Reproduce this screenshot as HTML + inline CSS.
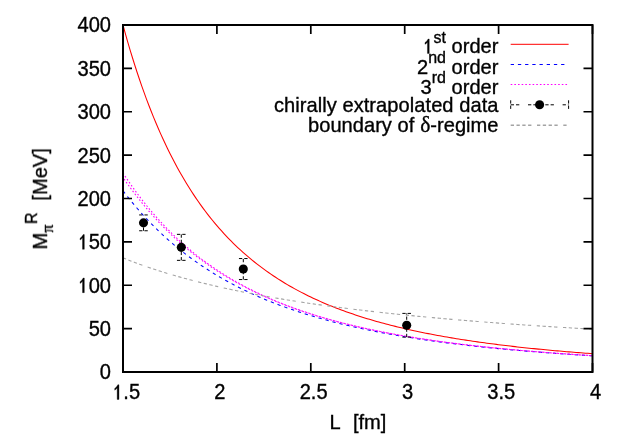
<!DOCTYPE html>
<html><head><meta charset="utf-8"><style>
html,body{margin:0;padding:0;background:#fff;}
svg{display:block;}
text{font-family:"Liberation Sans",sans-serif;font-size:20.10px;fill:#000;white-space:pre;stroke:#000;stroke-width:0.35px;}
.sup{font-size:16.00px;}
.sym{font-family:"Liberation Serif",serif;}
.hid{fill:none;stroke:none;}
.one{fill:#000;stroke:#000;stroke-width:0.35px;vector-effect:non-scaling-stroke;}
#txt{opacity:0.999;}
</style></head><body>
<svg width="623" height="437" viewBox="0 0 623 437">
<rect width="623" height="437" fill="#fff"/>
<g id="curves">
<path d="M123.00,25.00 L125.35,33.53 L127.69,41.79 L130.04,49.78 L132.39,57.51 L134.74,65.00 L137.08,72.25 L139.43,79.27 L141.78,86.08 L144.13,92.68 L146.47,99.08 L148.82,105.28 L151.17,111.29 L153.52,117.13 L155.87,122.79 L158.21,128.29 L160.56,133.63 L162.91,138.81 L165.26,143.84 L167.60,148.73 L169.95,153.48 L172.30,158.10 L174.64,162.58 L176.99,166.95 L179.34,171.19 L181.69,175.32 L184.03,179.33 L186.38,183.24 L188.73,187.04 L191.08,190.73 L193.43,194.34 L195.77,197.84 L198.12,201.26 L200.47,204.58 L202.81,207.82 L205.16,210.98 L207.51,214.06 L209.86,217.06 L212.21,219.98 L214.55,222.83 L216.90,225.61 L219.25,228.32 L221.59,230.96 L223.94,233.54 L226.29,236.06 L228.64,238.52 L230.99,240.92 L233.33,243.26 L235.68,245.54 L238.03,247.77 L240.38,249.95 L242.72,252.08 L245.07,254.16 L247.42,256.19 L249.76,258.18 L252.11,260.12 L254.46,262.01 L256.81,263.87 L259.16,265.68 L261.50,267.45 L263.85,269.19 L266.20,270.88 L268.54,272.54 L270.89,274.16 L273.24,275.75 L275.59,277.30 L277.94,278.82 L280.28,280.30 L282.63,281.76 L284.98,283.18 L287.32,284.58 L289.67,285.95 L292.02,287.28 L294.37,288.59 L296.71,289.88 L299.06,291.13 L301.41,292.36 L303.76,293.57 L306.11,294.75 L308.45,295.91 L310.80,297.05 L313.15,298.16 L315.50,299.25 L317.84,300.32 L320.19,301.37 L322.54,302.40 L324.88,303.41 L327.23,304.40 L329.58,305.37 L331.93,306.32 L334.27,307.25 L336.62,308.17 L338.97,309.07 L341.32,309.95 L343.66,310.82 L346.01,311.67 L348.36,312.50 L350.71,313.32 L353.06,314.12 L355.40,314.91 L357.75,315.69 L360.10,316.45 L362.44,317.20 L364.79,317.93 L367.14,318.65 L369.49,319.36 L371.84,320.05 L374.18,320.74 L376.53,321.41 L378.88,322.07 L381.23,322.72 L383.57,323.36 L385.92,323.98 L388.27,324.60 L390.61,325.20 L392.96,325.80 L395.31,326.38 L397.66,326.96 L400.01,327.52 L402.35,328.08 L404.70,328.62 L407.05,329.16 L409.39,329.69 L411.74,330.21 L414.09,330.72 L416.44,331.23 L418.79,331.72 L421.13,332.21 L423.48,332.69 L425.83,333.16 L428.18,333.62 L430.52,334.08 L432.87,334.53 L435.22,334.97 L437.56,335.41 L439.91,335.84 L442.26,336.26 L444.61,336.68 L446.96,337.08 L449.30,337.49 L451.65,337.88 L454.00,338.28 L456.34,338.66 L458.69,339.04 L461.04,339.41 L463.39,339.78 L465.74,340.14 L468.08,340.50 L470.43,340.85 L472.78,341.20 L475.12,341.54 L477.47,341.87 L479.82,342.20 L482.17,342.53 L484.51,342.85 L486.86,343.17 L489.21,343.48 L491.56,343.79 L493.91,344.09 L496.25,344.39 L498.60,344.69 L500.95,344.98 L503.29,345.26 L505.64,345.54 L507.99,345.82 L510.34,346.10 L512.69,346.37 L515.03,346.64 L517.38,346.90 L519.73,347.16 L522.08,347.41 L524.42,347.67 L526.77,347.92 L529.12,348.16 L531.46,348.40 L533.81,348.64 L536.16,348.88 L538.51,349.11 L540.86,349.34 L543.20,349.57 L545.55,349.79 L547.90,350.01 L550.24,350.23 L552.59,350.45 L554.94,350.66 L557.29,350.87 L559.63,351.07 L561.98,351.28 L564.33,351.48 L566.68,351.68 L569.02,351.87 L571.37,352.07 L573.72,352.26 L576.07,352.45 L578.41,352.63 L580.76,352.82 L583.11,353.00 L585.46,353.18 L587.81,353.35 L590.15,353.53 L592.50,353.70" fill="none" stroke="#ff0000" stroke-width="1.05"/>
<path d="M123.00,190.83 L125.35,193.88 L127.69,196.87 L130.04,199.80 L132.39,202.67 L134.74,205.47 L137.08,208.22 L139.43,210.91 L141.78,213.55 L144.13,216.13 L146.47,218.67 L148.82,221.14 L151.17,223.57 L153.52,225.95 L155.87,228.29 L158.21,230.57 L160.56,232.81 L162.91,235.01 L165.26,237.16 L167.60,239.28 L169.95,241.35 L172.30,243.37 L174.64,245.36 L176.99,247.32 L179.34,249.23 L181.69,251.11 L184.03,252.95 L186.38,254.75 L188.73,256.52 L191.08,258.26 L193.43,259.97 L195.77,261.64 L198.12,263.28 L200.47,264.89 L202.81,266.47 L205.16,268.02 L207.51,269.55 L209.86,271.04 L212.21,272.51 L214.55,273.95 L216.90,275.36 L219.25,276.75 L221.59,278.12 L223.94,279.46 L226.29,280.77 L228.64,282.06 L230.99,283.33 L233.33,284.58 L235.68,285.80 L238.03,287.00 L240.38,288.18 L242.72,289.34 L245.07,290.48 L247.42,291.60 L249.76,292.70 L252.11,293.78 L254.46,294.85 L256.81,295.89 L259.16,296.92 L261.50,297.92 L263.85,298.92 L266.20,299.89 L268.54,300.85 L270.89,301.79 L273.24,302.72 L275.59,303.63 L277.94,304.52 L280.28,305.41 L282.63,306.27 L284.98,307.12 L287.32,307.96 L289.67,308.79 L292.02,309.60 L294.37,310.39 L296.71,311.18 L299.06,311.95 L301.41,312.71 L303.76,313.46 L306.11,314.19 L308.45,314.91 L310.80,315.62 L313.15,316.33 L315.50,317.01 L317.84,317.69 L320.19,318.36 L322.54,319.02 L324.88,319.66 L327.23,320.30 L329.58,320.93 L331.93,321.54 L334.27,322.15 L336.62,322.75 L338.97,323.34 L341.32,323.92 L343.66,324.49 L346.01,325.05 L348.36,325.61 L350.71,326.15 L353.06,326.69 L355.40,327.22 L357.75,327.74 L360.10,328.25 L362.44,328.76 L364.79,329.26 L367.14,329.75 L369.49,330.23 L371.84,330.71 L374.18,331.18 L376.53,331.64 L378.88,332.10 L381.23,332.55 L383.57,332.99 L385.92,333.43 L388.27,333.86 L390.61,334.28 L392.96,334.70 L395.31,335.11 L397.66,335.52 L400.01,335.92 L402.35,336.31 L404.70,336.70 L407.05,337.09 L409.39,337.46 L411.74,337.84 L414.09,338.21 L416.44,338.57 L418.79,338.93 L421.13,339.28 L423.48,339.63 L425.83,339.97 L428.18,340.31 L430.52,340.64 L432.87,340.97 L435.22,341.30 L437.56,341.62 L439.91,341.93 L442.26,342.24 L444.61,342.55 L446.96,342.86 L449.30,343.16 L451.65,343.45 L454.00,343.74 L456.34,344.03 L458.69,344.31 L461.04,344.59 L463.39,344.87 L465.74,345.14 L468.08,345.41 L470.43,345.68 L472.78,345.94 L475.12,346.20 L477.47,346.46 L479.82,346.71 L482.17,346.96 L484.51,347.20 L486.86,347.45 L489.21,347.69 L491.56,347.92 L493.91,348.16 L496.25,348.39 L498.60,348.62 L500.95,348.84 L503.29,349.06 L505.64,349.28 L507.99,349.50 L510.34,349.71 L512.69,349.93 L515.03,350.13 L517.38,350.34 L519.73,350.54 L522.08,350.75 L524.42,350.94 L526.77,351.14 L529.12,351.33 L531.46,351.53 L533.81,351.72 L536.16,351.90 L538.51,352.09 L540.86,352.27 L543.20,352.45 L545.55,352.63 L547.90,352.81 L550.24,352.98 L552.59,353.15 L554.94,353.32 L557.29,353.49 L559.63,353.66 L561.98,353.82 L564.33,353.98 L566.68,354.14 L569.02,354.30 L571.37,354.46 L573.72,354.61 L576.07,354.76 L578.41,354.92 L580.76,355.07 L583.11,355.21 L585.46,355.36 L587.81,355.50 L590.15,355.65 L592.50,355.79" fill="none" stroke="#0000ff" stroke-width="1.05" stroke-dasharray="3.3,3.9"/>
<path d="M123.00,173.01 L125.35,176.58 L127.69,180.07 L130.04,183.49 L132.39,186.83 L134.74,190.10 L137.08,193.30 L139.43,196.44 L141.78,199.50 L144.13,202.50 L146.47,205.43 L148.82,208.30 L151.17,211.11 L153.52,213.86 L155.87,216.55 L158.21,219.18 L160.56,221.76 L162.91,224.28 L165.26,226.75 L167.60,229.17 L169.95,231.54 L172.30,233.86 L174.64,236.13 L176.99,238.35 L179.34,240.53 L181.69,242.66 L184.03,244.75 L186.38,246.79 L188.73,248.79 L191.08,250.76 L193.43,252.68 L195.77,254.57 L198.12,256.41 L200.47,258.22 L202.81,260.00 L205.16,261.73 L207.51,263.44 L209.86,265.11 L212.21,266.75 L214.55,268.35 L216.90,269.92 L219.25,271.47 L221.59,272.98 L223.94,274.47 L226.29,275.92 L228.64,277.35 L230.99,278.75 L233.33,280.12 L235.68,281.47 L238.03,282.80 L240.38,284.09 L242.72,285.37 L245.07,286.62 L247.42,287.84 L249.76,289.05 L252.11,290.23 L254.46,291.39 L256.81,292.53 L259.16,293.65 L261.50,294.74 L263.85,295.82 L266.20,296.88 L268.54,297.92 L270.89,298.94 L273.24,299.94 L275.59,300.93 L277.94,301.90 L280.28,302.85 L282.63,303.78 L284.98,304.70 L287.32,305.60 L289.67,306.49 L292.02,307.36 L294.37,308.21 L296.71,309.05 L299.06,309.88 L301.41,310.69 L303.76,311.49 L306.11,312.28 L308.45,313.05 L310.80,313.81 L313.15,314.56 L315.50,315.29 L317.84,316.01 L320.19,316.72 L322.54,317.42 L324.88,318.11 L327.23,318.78 L329.58,319.45 L331.93,320.10 L334.27,320.75 L336.62,321.38 L338.97,322.00 L341.32,322.62 L343.66,323.22 L346.01,323.81 L348.36,324.40 L350.71,324.97 L353.06,325.54 L355.40,326.10 L357.75,326.64 L360.10,327.18 L362.44,327.72 L364.79,328.24 L367.14,328.75 L369.49,329.26 L371.84,329.76 L374.18,330.25 L376.53,330.74 L378.88,331.22 L381.23,331.69 L383.57,332.15 L385.92,332.60 L388.27,333.05 L390.61,333.50 L392.96,333.93 L395.31,334.36 L397.66,334.79 L400.01,335.20 L402.35,335.61 L404.70,336.02 L407.05,336.42 L409.39,336.81 L411.74,337.20 L414.09,337.58 L416.44,337.96 L418.79,338.33 L421.13,338.70 L423.48,339.06 L425.83,339.41 L428.18,339.76 L430.52,340.11 L432.87,340.45 L435.22,340.79 L437.56,341.12 L439.91,341.45 L442.26,341.77 L444.61,342.09 L446.96,342.40 L449.30,342.71 L451.65,343.01 L454.00,343.32 L456.34,343.61 L458.69,343.91 L461.04,344.19 L463.39,344.48 L465.74,344.76 L468.08,345.04 L470.43,345.31 L472.78,345.58 L475.12,345.85 L477.47,346.11 L479.82,346.37 L482.17,346.63 L484.51,346.88 L486.86,347.13 L489.21,347.38 L491.56,347.62 L493.91,347.86 L496.25,348.10 L498.60,348.33 L500.95,348.56 L503.29,348.79 L505.64,349.01 L507.99,349.24 L510.34,349.46 L512.69,349.67 L515.03,349.89 L517.38,350.10 L519.73,350.31 L522.08,350.51 L524.42,350.72 L526.77,350.92 L529.12,351.12 L531.46,351.31 L533.81,351.50 L536.16,351.70 L538.51,351.88 L540.86,352.07 L543.20,352.26 L545.55,352.44 L547.90,352.62 L550.24,352.80 L552.59,352.97 L554.94,353.14 L557.29,353.32 L559.63,353.48 L561.98,353.65 L564.33,353.82 L566.68,353.98 L569.02,354.14 L571.37,354.30 L573.72,354.46 L576.07,354.62 L578.41,354.77 L580.76,354.92 L583.11,355.07 L585.46,355.22 L587.81,355.37 L590.15,355.51 L592.50,355.66" fill="none" stroke="#ff00ff" stroke-width="1.1" stroke-dasharray="1.6,2.05"/>
<path d="M123.00,177.51 L125.35,180.87 L127.69,184.17 L130.04,187.41 L132.39,190.57 L134.74,193.68 L137.08,196.72 L139.43,199.70 L141.78,202.62 L144.13,205.48 L146.47,208.29 L148.82,211.03 L151.17,213.72 L153.52,216.36 L155.87,218.94 L158.21,221.48 L160.56,223.96 L162.91,226.39 L165.26,228.77 L167.60,231.10 L169.95,233.39 L172.30,235.63 L174.64,237.83 L176.99,239.98 L179.34,242.09 L181.69,244.16 L184.03,246.19 L186.38,248.18 L188.73,250.12 L191.08,252.03 L193.43,253.91 L195.77,255.74 L198.12,257.54 L200.47,259.31 L202.81,261.04 L205.16,262.74 L207.51,264.40 L209.86,266.04 L212.21,267.64 L214.55,269.21 L216.90,270.75 L219.25,272.26 L221.59,273.75 L223.94,275.20 L226.29,276.63 L228.64,278.03 L230.99,279.41 L233.33,280.76 L235.68,282.08 L238.03,283.38 L240.38,284.66 L242.72,285.91 L245.07,287.14 L247.42,288.35 L249.76,289.54 L252.11,290.70 L254.46,291.85 L256.81,292.97 L259.16,294.07 L261.50,295.15 L263.85,296.22 L266.20,297.26 L268.54,298.29 L270.89,299.30 L273.24,300.29 L275.59,301.26 L277.94,302.22 L280.28,303.16 L282.63,304.08 L284.98,304.99 L287.32,305.88 L289.67,306.76 L292.02,307.62 L294.37,308.47 L296.71,309.30 L299.06,310.12 L301.41,310.92 L303.76,311.72 L306.11,312.49 L308.45,313.26 L310.80,314.01 L313.15,314.75 L315.50,315.48 L317.84,316.20 L320.19,316.90 L322.54,317.59 L324.88,318.28 L327.23,318.95 L329.58,319.61 L331.93,320.25 L334.27,320.89 L336.62,321.52 L338.97,322.14 L341.32,322.75 L343.66,323.35 L346.01,323.94 L348.36,324.52 L350.71,325.09 L353.06,325.65 L355.40,326.21 L357.75,326.75 L360.10,327.29 L362.44,327.82 L364.79,328.34 L367.14,328.85 L369.49,329.36 L371.84,329.85 L374.18,330.34 L376.53,330.82 L378.88,331.30 L381.23,331.77 L383.57,332.23 L385.92,332.68 L388.27,333.13 L390.61,333.57 L392.96,334.00 L395.31,334.43 L397.66,334.85 L400.01,335.27 L402.35,335.68 L404.70,336.08 L407.05,336.48 L409.39,336.87 L411.74,337.26 L414.09,337.64 L416.44,338.01 L418.79,338.38 L421.13,338.75 L423.48,339.11 L425.83,339.46 L428.18,339.81 L430.52,340.16 L432.87,340.50 L435.22,340.83 L437.56,341.16 L439.91,341.49 L442.26,341.81 L444.61,342.13 L446.96,342.44 L449.30,342.75 L451.65,343.05 L454.00,343.35 L456.34,343.65 L458.69,343.94 L461.04,344.23 L463.39,344.51 L465.74,344.79 L468.08,345.07 L470.43,345.34 L472.78,345.61 L475.12,345.88 L477.47,346.14 L479.82,346.40 L482.17,346.65 L484.51,346.91 L486.86,347.15 L489.21,347.40 L491.56,347.64 L493.91,347.88 L496.25,348.12 L498.60,348.35 L500.95,348.58 L503.29,348.81 L505.64,349.03 L507.99,349.26 L510.34,349.48 L512.69,349.69 L515.03,349.91 L517.38,350.12 L519.73,350.32 L522.08,350.53 L524.42,350.73 L526.77,350.93 L529.12,351.13 L531.46,351.33 L533.81,351.52 L536.16,351.71 L538.51,351.90 L540.86,352.09 L543.20,352.27 L545.55,352.45 L547.90,352.63 L550.24,352.81 L552.59,352.98 L554.94,353.16 L557.29,353.33 L559.63,353.50 L561.98,353.66 L564.33,353.83 L566.68,353.99 L569.02,354.15 L571.37,354.31 L573.72,354.47 L576.07,354.63 L578.41,354.78 L580.76,354.93 L583.11,355.08 L585.46,355.23 L587.81,355.38 L590.15,355.52 L592.50,355.67" fill="none" stroke="#ff00ff" stroke-width="1.1" stroke-dasharray="1.6,2.05" stroke-dashoffset="1.8"/>
<path d="M123.00,257.88 L125.35,258.82 L127.69,259.75 L130.04,260.66 L132.39,261.56 L134.74,262.44 L137.08,263.31 L139.43,264.17 L141.78,265.01 L144.13,265.84 L146.47,266.66 L148.82,267.46 L151.17,268.25 L153.52,269.03 L155.87,269.80 L158.21,270.56 L160.56,271.31 L162.91,272.04 L165.26,272.76 L167.60,273.48 L169.95,274.18 L172.30,274.88 L174.64,275.56 L176.99,276.23 L179.34,276.90 L181.69,277.56 L184.03,278.20 L186.38,278.84 L188.73,279.47 L191.08,280.09 L193.43,280.70 L195.77,281.31 L198.12,281.90 L200.47,282.49 L202.81,283.07 L205.16,283.65 L207.51,284.21 L209.86,284.77 L212.21,285.33 L214.55,285.87 L216.90,286.41 L219.25,286.94 L221.59,287.47 L223.94,287.98 L226.29,288.50 L228.64,289.00 L230.99,289.50 L233.33,290.00 L235.68,290.49 L238.03,290.97 L240.38,291.44 L242.72,291.92 L245.07,292.38 L247.42,292.84 L249.76,293.30 L252.11,293.75 L254.46,294.19 L256.81,294.63 L259.16,295.06 L261.50,295.49 L263.85,295.92 L266.20,296.34 L268.54,296.76 L270.89,297.17 L273.24,297.57 L275.59,297.98 L277.94,298.37 L280.28,298.77 L282.63,299.16 L284.98,299.54 L287.32,299.92 L289.67,300.30 L292.02,300.67 L294.37,301.04 L296.71,301.41 L299.06,301.77 L301.41,302.13 L303.76,302.48 L306.11,302.84 L308.45,303.18 L310.80,303.53 L313.15,303.87 L315.50,304.21 L317.84,304.54 L320.19,304.87 L322.54,305.20 L324.88,305.52 L327.23,305.84 L329.58,306.16 L331.93,306.48 L334.27,306.79 L336.62,307.10 L338.97,307.40 L341.32,307.71 L343.66,308.01 L346.01,308.30 L348.36,308.60 L350.71,308.89 L353.06,309.18 L355.40,309.47 L357.75,309.75 L360.10,310.03 L362.44,310.31 L364.79,310.59 L367.14,310.86 L369.49,311.14 L371.84,311.40 L374.18,311.67 L376.53,311.94 L378.88,312.20 L381.23,312.46 L383.57,312.72 L385.92,312.97 L388.27,313.23 L390.61,313.48 L392.96,313.73 L395.31,313.97 L397.66,314.22 L400.01,314.46 L402.35,314.70 L404.70,314.94 L407.05,315.18 L409.39,315.41 L411.74,315.64 L414.09,315.88 L416.44,316.10 L418.79,316.33 L421.13,316.56 L423.48,316.78 L425.83,317.00 L428.18,317.22 L430.52,317.44 L432.87,317.66 L435.22,317.87 L437.56,318.08 L439.91,318.30 L442.26,318.51 L444.61,318.71 L446.96,318.92 L449.30,319.13 L451.65,319.33 L454.00,319.53 L456.34,319.73 L458.69,319.93 L461.04,320.13 L463.39,320.32 L465.74,320.52 L468.08,320.71 L470.43,320.90 L472.78,321.09 L475.12,321.28 L477.47,321.47 L479.82,321.65 L482.17,321.84 L484.51,322.02 L486.86,322.20 L489.21,322.38 L491.56,322.56 L493.91,322.74 L496.25,322.92 L498.60,323.09 L500.95,323.27 L503.29,323.44 L505.64,323.61 L507.99,323.78 L510.34,323.95 L512.69,324.12 L515.03,324.28 L517.38,324.45 L519.73,324.61 L522.08,324.78 L524.42,324.94 L526.77,325.10 L529.12,325.26 L531.46,325.42 L533.81,325.58 L536.16,325.73 L538.51,325.89 L540.86,326.05 L543.20,326.20 L545.55,326.35 L547.90,326.50 L550.24,326.65 L552.59,326.80 L554.94,326.95 L557.29,327.10 L559.63,327.25 L561.98,327.39 L564.33,327.54 L566.68,327.68 L569.02,327.82 L571.37,327.97 L573.72,328.11 L576.07,328.25 L578.41,328.39 L580.76,328.53 L583.11,328.66 L585.46,328.80 L587.81,328.94 L590.15,329.07 L592.50,329.20" fill="none" stroke="#a4a4a4" stroke-width="1.1" stroke-dasharray="3.3,2.5,3.3,2.5,3.3,2.5,3.3,5.6"/>
<path d="M143.50,230.75 V214.95 M139.15,214.95 H147.85 M139.15,230.75 H147.85" fill="none" stroke="#000" stroke-width="1.0" stroke-dasharray="3.3,2,3.3,8.7"/>
<circle cx="143.50" cy="222.85" r="4.55" fill="#000"/>
<path d="M181.30,260.35 V234.35 M176.95,234.35 H185.65 M176.95,260.35 H185.65" fill="none" stroke="#000" stroke-width="1.0" stroke-dasharray="3.3,2,3.3,8.7"/>
<circle cx="181.30" cy="247.35" r="4.55" fill="#000"/>
<path d="M243.30,279.55 V258.55 M238.95,258.55 H247.65 M238.95,279.55 H247.65" fill="none" stroke="#000" stroke-width="1.0" stroke-dasharray="3.3,2,3.3,8.7"/>
<circle cx="243.30" cy="269.05" r="4.55" fill="#000"/>
<path d="M406.70,337.10 V313.40 M402.35,313.40 H411.05 M402.35,337.10 H411.05" fill="none" stroke="#000" stroke-width="1.0" stroke-dasharray="3.3,2,3.3,8.7"/>
<circle cx="406.70" cy="325.25" r="4.55" fill="#000"/>
</g>
<path d="M123.00,372.0 v-9 M123.00,25.0 v9 M216.90,372.0 v-9 M216.90,25.0 v9 M310.80,372.0 v-9 M310.80,25.0 v9 M404.70,372.0 v-9 M404.70,25.0 v9 M498.60,372.0 v-9 M498.60,25.0 v9 M592.50,372.0 v-9 M592.50,25.0 v9 M123.0,372.00 h9 M592.5,372.00 h-9 M123.0,328.62 h9 M592.5,328.62 h-9 M123.0,285.25 h9 M592.5,285.25 h-9 M123.0,241.88 h9 M592.5,241.88 h-9 M123.0,198.50 h9 M592.5,198.50 h-9 M123.0,155.12 h9 M592.5,155.12 h-9 M123.0,111.75 h9 M592.5,111.75 h-9 M123.0,68.38 h9 M592.5,68.38 h-9 M123.0,25.00 h9 M592.5,25.00 h-9" fill="none" stroke="#000" stroke-width="1.7"/>
<rect x="123.0" y="25.0" width="469.5" height="347.0" fill="none" stroke="#000" stroke-width="2"/>
<g id="txt">
<g transform="translate(111.00,379.40) scale(1,1.060)"><text text-anchor="end">0</text></g>
<g transform="translate(111.00,336.02) scale(1,1.060)"><text text-anchor="end">50</text></g>
<g transform="translate(111.00,292.65) scale(1,1.060)"><text text-anchor="end"><tspan class="hid">1</tspan>00</text><path class="one" transform="translate(-33.526,0) scale(0.009814,-0.009814)" d="M696,0H515V1098Q470,1039 396,980Q322,921 264,891V1057Q369,1125 448,1222Q533,1319 580,1409H696Z"/></g>
<g transform="translate(111.00,249.28) scale(1,1.060)"><text text-anchor="end"><tspan class="hid">1</tspan>50</text><path class="one" transform="translate(-33.526,0) scale(0.009814,-0.009814)" d="M696,0H515V1098Q470,1039 396,980Q322,921 264,891V1057Q369,1125 448,1222Q533,1319 580,1409H696Z"/></g>
<g transform="translate(111.00,205.90) scale(1,1.060)"><text text-anchor="end">200</text></g>
<g transform="translate(111.00,162.53) scale(1,1.060)"><text text-anchor="end">250</text></g>
<g transform="translate(111.00,119.15) scale(1,1.060)"><text text-anchor="end">300</text></g>
<g transform="translate(111.00,75.78) scale(1,1.060)"><text text-anchor="end">350</text></g>
<g transform="translate(111.00,32.40) scale(1,1.060)"><text text-anchor="end">400</text></g>
<g transform="translate(126.10,399.40) scale(1,1.060)"><text text-anchor="middle"><tspan class="hid">1</tspan>.5</text><path class="one" transform="translate(-13.966,0) scale(0.009814,-0.009814)" d="M696,0H515V1098Q470,1039 396,980Q322,921 264,891V1057Q369,1125 448,1222Q533,1319 580,1409H696Z"/></g>
<g transform="translate(219.80,399.40) scale(1,1.060)"><text text-anchor="middle">2</text></g>
<g transform="translate(313.60,399.40) scale(1,1.060)"><text text-anchor="middle">2.5</text></g>
<g transform="translate(407.50,399.40) scale(1,1.060)"><text text-anchor="middle">3</text></g>
<g transform="translate(501.30,399.40) scale(1,1.060)"><text text-anchor="middle">3.5</text></g>
<g transform="translate(595.50,399.40) scale(1,1.060)"><text text-anchor="middle">4</text></g>
<g transform="translate(498.50,53.40) scale(1,1.040)"><text text-anchor="end"><tspan class="hid">1</tspan><tspan class="sup" dy="-9.8">st</tspan><tspan dy="9.8"> order</tspan></text><path class="one" transform="translate(-76.105,0) scale(0.009814,-0.009814)" d="M696,0H515V1098Q470,1039 396,980Q322,921 264,891V1057Q369,1125 448,1222Q533,1319 580,1409H696Z"/></g>
<g transform="translate(498.50,73.50) scale(1,1.040)"><text text-anchor="end">2<tspan class="sup" dy="-9.8">nd</tspan><tspan dy="9.8"> order</tspan></text></g>
<g transform="translate(498.50,93.60) scale(1,1.040)"><text text-anchor="end">3<tspan class="sup" dy="-9.8">rd</tspan><tspan dy="9.8"> order</tspan></text></g>
<g transform="translate(498.50,111.90) scale(1,1.020)"><text text-anchor="end"><tspan style="letter-spacing:0.045px">chirally extrapolated data</tspan></text></g>
<g transform="translate(498.50,131.80) scale(1,1.020)"><text text-anchor="end">boundary of <tspan class="sym" dx="0.4" style="font-size:21.6px">&#948;</tspan>-regime</text></g>
<g transform="translate(329.60,429.30) scale(1,1.030)"><text text-anchor="start">L  <tspan dx="1.7">[fm]</tspan></text></g>
<g transform="translate(47.00,249.50) rotate(-90) scale(1,1.040)"><text text-anchor="start">M<tspan class="sup sym" dy="5.8">&#960;</tspan><tspan class="sup" dy="-15.2" dx="0.7">R</tspan><tspan dy="9.4" dx="0.6">  [MeV]</tspan></text></g>
</g>
<g id="legend">
<path d="M510.7,44.3 H568.6" stroke="#ff0000" stroke-width="1.0" fill="none"/>
<path d="M510.7,64.4 H564.9" stroke="#0000ff" stroke-width="1.05" fill="none" stroke-dasharray="3.3,3.9"/>
<path d="M510.7,84.5 H568.6" stroke="#ff00ff" stroke-width="1.2" fill="none" stroke-dasharray="1.6,2.05"/>
<path d="M510.7,104.8 H568.6 M510.7,100.3 v9 M568.6,100.3 v9" stroke="#000" stroke-width="1" fill="none" stroke-dasharray="3.3,2,3.3,8.7"/>
<circle cx="539.6" cy="104.8" r="4.55" fill="#000"/>
<path d="M510.7,125.2 H568.6" stroke="#a4a4a4" stroke-width="1.4" fill="none" stroke-dasharray="3.3,2.5,3.3,2.5,3.3,2.5,3.3,5.6"/>
</g>
</svg>
</body></html>
